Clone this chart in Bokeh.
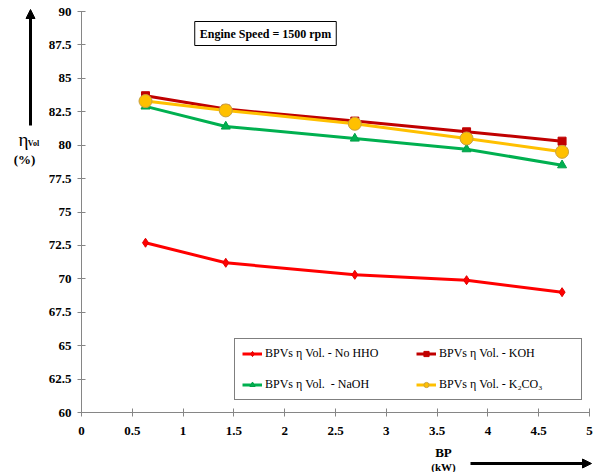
from bokeh.plotting import figure
from bokeh.models import Label, Arrow, NormalHead, Legend, LegendItem, FixedTicker, Range1d
from bokeh.embed import file_html
from bokeh.resources import INLINE

# ---- data ----
bp = [0.63, 1.42, 2.69, 3.79, 4.73]
no_hho = [72.7, 71.2, 70.3, 69.9, 69.0]
koh = [83.7, 82.7, 81.8, 81.0, 80.3]
naoh = [82.9, 81.4, 80.5, 79.7, 78.5]
k2co3 = [83.3, 82.6, 81.6, 80.5, 79.5]

x_ticks = [0, 0.5, 1, 1.5, 2, 2.5, 3, 3.5, 4, 4.5, 5]
x_tick_labels = ["0", "0.5", "1", "1.5", "2", "2.5", "3", "3.5", "4", "4.5", "5"]
y_ticks = [60, 62.5, 65, 67.5, 70, 72.5, 75, 77.5, 80, 82.5, 85, 87.5, 90]
y_tick_labels = ["60", "62.5", "65", "67.5", "70", "72.5", "75", "77.5", "80", "82.5", "85", "87.5", "90"]

series_names = ["BPVs \u03b7 Vol. - No HHO", "BPVs \u03b7 Vol. - KOH",
                "BPVs \u03b7 Vol.  - NaOH", "BPVs \u03b7 Vol. - K\u2082CO\u2083"]

W, H = 593, 472
FONT = "Liberation Serif"

# axis box in pixels (left, right, top, bottom) and axis value limits
AX_L, AX_R, AX_T, AX_B = 81, 589, 11, 412
X0, X1, Y0, Y1 = 0, 5, 60, 90
kx = (AX_R - AX_L) / (X1 - X0)
ky = (AX_B - AX_T) / (Y1 - Y0)
x_range = Range1d(X0 - AX_L / kx, X1 + (W - AX_R) / kx)
y_range = Range1d(Y0 - (H - AX_B) / ky, Y1 + AX_T / ky)

p = figure(width=W, height=H, x_range=x_range, y_range=y_range,
           output_backend="svg", toolbar_location=None,
           min_border_left=0, min_border_right=0, min_border_top=0, min_border_bottom=0)
p.outline_line_color = None
p.xgrid.visible = False
p.ygrid.visible = False
p.background_fill_color = "white"
p.border_fill_color = "white"

for ax, ticks, labels, loc, bnds in ((p.xaxis[0], x_ticks, x_tick_labels, Y0, (X0, X1)),
                                     (p.yaxis[0], y_ticks, y_tick_labels, X0, (Y0, Y1))):
    ax.fixed_location = loc
    ax.bounds = bnds
    ax.ticker = FixedTicker(ticks=ticks)
    ax.major_label_overrides = {t: l for t, l in zip(ticks, labels)}
    ax.axis_line_color = "#868686"
    ax.major_tick_line_color = "#868686"
    ax.minor_tick_line_color = None
    ax.major_tick_in = 4
    ax.major_tick_out = 4
    ax.major_label_text_font = FONT
    ax.major_label_text_font_style = "bold"
    ax.major_label_text_font_size = "13px"
    ax.major_label_text_color = "black"
p.xaxis.major_label_standoff = 10
p.yaxis.major_label_standoff = 6

r_nh_l = p.line(bp, no_hho, line_color="#FF0000", line_width=3)
r_nh_m = p.scatter(bp, no_hho, marker="diamond", size=9, fill_color="#FF0000", line_color="#E00000")
r_koh_l = p.line(bp, koh, line_color="#C00000", line_width=3)
r_koh_m = p.scatter(bp, koh, marker="square", size=8, fill_color="#C00000", line_color="#C00000")
r_na_l = p.line(bp, naoh, line_color="#00B050", line_width=3)
r_na_m = p.scatter(bp, naoh, marker="triangle", size=9, fill_color="#00B050", line_color="#00A048")
r_k2_l = p.line(bp, k2co3, line_color="#FFC000", line_width=3)
r_k2_m = p.scatter(bp, k2co3, marker="circle", size=13, fill_color="#FFC000", line_color="#C8A040")

legend = Legend(items=[
    LegendItem(label=series_names[0], renderers=[r_nh_l, r_nh_m]),
    LegendItem(label=series_names[2], renderers=[r_na_l, r_na_m]),
    LegendItem(label=series_names[1], renderers=[r_koh_l, r_koh_m]),
    LegendItem(label=series_names[3], renderers=[r_k2_l, r_k2_m]),
], ncols=2, location=(234, H - 400))
legend.border_line_color = "black"
legend.border_line_width = 1
legend.background_fill_color = "white"
legend.background_fill_alpha = 1
legend.label_text_font = FONT
legend.label_text_font_size = "12px"
legend.label_text_color = "black"
legend.glyph_width = 20
legend.glyph_height = 13
legend.label_height = 13
legend.label_width = 135
legend.label_standoff = 3
legend.spacing = 16
legend.padding = 7
legend.margin = 0
p.add_layout(legend)

# screen positions (frame covers the whole canvas; origin bottom-left)
def sx(ix):
    return ix

def sy(iy):
    return H - iy

def add_text(ix, iy, text, size, bold=True, align="center", **kw):
    p.add_layout(Label(x=sx(ix), y=sy(iy), x_units="screen", y_units="screen", text=text,
                       text_align=align, text_baseline="middle", text_font=FONT,
                       text_font_style="bold" if bold else "normal",
                       text_font_size=size, text_color="black", **kw))

# title box
add_text(265, 33, "Engine Speed = 1500 rpm", "12px", border_line_color="black",
         border_line_width=1, background_fill_color="white", padding=5)

# y-axis title + arrow
p.add_layout(Arrow(x_start=sx(30), y_start=sy(125), x_end=sx(30), y_end=sy(9),
                   start_units="screen", end_units="screen", line_width=3, line_color="black",
                   end=NormalHead(size=9, fill_color="black", line_color="black")))
add_text(23, 139, "\u03b7", "19px", bold=False)
add_text(33, 143, "Vol", "8px")
add_text(24, 159, "(%)", "13px")

# x-axis title + arrow
add_text(443, 452, "BP", "13px")
add_text(443, 466, "(kW)", "11px")
p.add_layout(Arrow(x_start=sx(470), y_start=sy(463), x_end=sx(591), y_end=sy(463),
                   start_units="screen", end_units="screen", line_width=3, line_color="black",
                   end=NormalHead(size=9, fill_color="black", line_color="black")))

open("out.html", "w").write(file_html(p, INLINE))
